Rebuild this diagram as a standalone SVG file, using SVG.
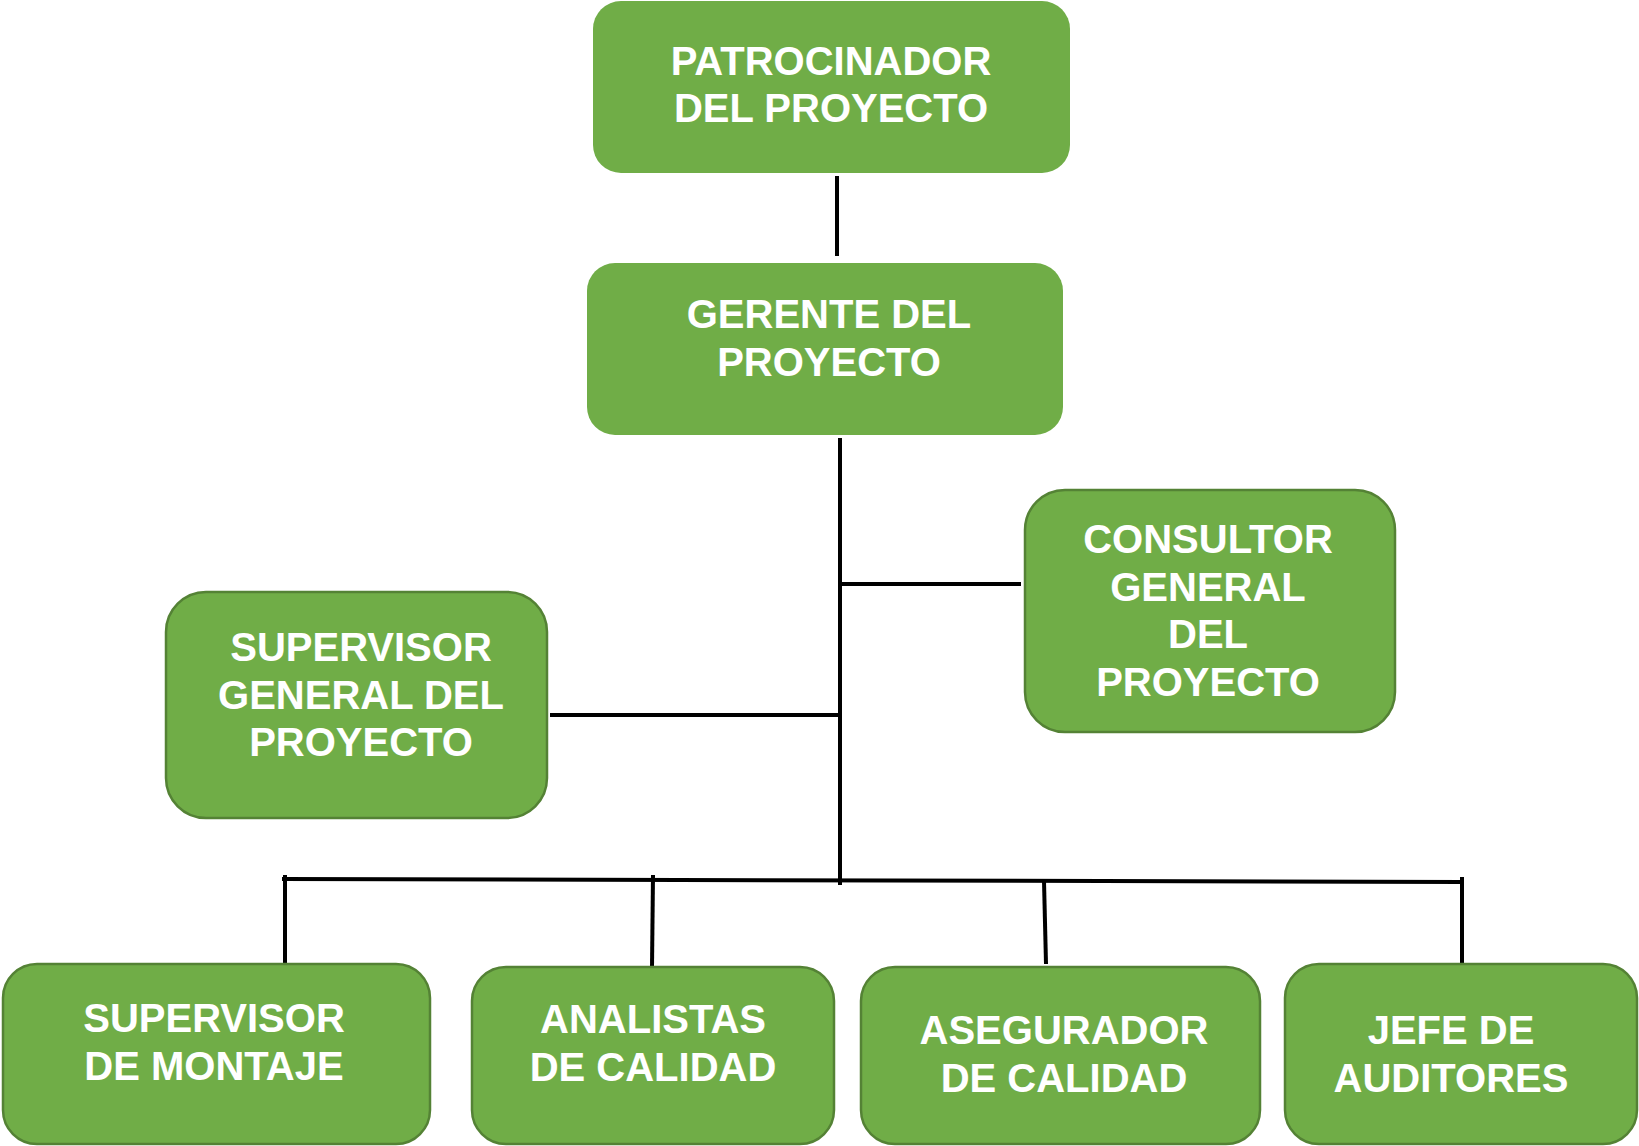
<svg xmlns="http://www.w3.org/2000/svg" width="1639" height="1146" viewBox="0 0 1639 1146">
<style>
.box{fill:#70AD47;}
.bd{stroke:#548235;stroke-width:2.5;}
.t{font-family:"Liberation Sans",Arial,sans-serif;font-weight:bold;font-size:40px;fill:#ffffff;text-anchor:middle;}
.c{stroke:#000000;stroke-width:4;fill:none;}
</style>
<rect width="1639" height="1146" fill="#ffffff"/>
<g id="connectors">
<line class="c" x1="837" y1="176" x2="837" y2="256"/>
<line class="c" x1="840" y1="438" x2="840" y2="885"/>
<line class="c" x1="840" y1="584" x2="1021" y2="584"/>
<line class="c" x1="550" y1="715" x2="840" y2="715"/>
<line class="c" x1="282" y1="879" x2="1462" y2="882"/>
<line class="c" x1="285" y1="875" x2="285" y2="964"/>
<line class="c" x1="653" y1="875" x2="652" y2="967"/>
<line class="c" x1="1044" y1="881" x2="1046" y2="964"/>
<line class="c" x1="1462" y1="877" x2="1462" y2="963"/>
</g>
<g id="patrocinador">
<rect class="box" x="593" y="1" width="477" height="172" rx="28"/>
<text class="t" x="831" y="75">PATROCINADOR</text>
<text class="t" x="831" y="122">DEL PROYECTO</text>
</g>
<g id="gerente">
<rect class="box" x="587" y="263" width="476" height="172" rx="28"/>
<text class="t" x="829" y="328">GERENTE DEL</text>
<text class="t" x="829" y="376">PROYECTO</text>
</g>
<g id="consultor">
<rect class="box bd" x="1025" y="490" width="370" height="242" rx="40"/>
<text class="t" x="1208" y="553">CONSULTOR</text>
<text class="t" x="1208" y="601">GENERAL</text>
<text class="t" x="1208" y="648">DEL</text>
<text class="t" x="1208" y="696">PROYECTO</text>
</g>
<g id="supervisor-general">
<rect class="box bd" x="166" y="592" width="381" height="226" rx="40"/>
<text class="t" x="361" y="661">SUPERVISOR</text>
<text class="t" x="361" y="709">GENERAL DEL</text>
<text class="t" x="361" y="756">PROYECTO</text>
</g>
<g id="supervisor-montaje">
<rect class="box bd" x="3" y="964" width="427" height="180" rx="34"/>
<text class="t" x="214" y="1032">SUPERVISOR</text>
<text class="t" x="214" y="1080">DE MONTAJE</text>
</g>
<g id="analistas">
<rect class="box bd" x="472" y="967" width="362" height="177" rx="34"/>
<text class="t" x="653" y="1033">ANALISTAS</text>
<text class="t" x="653" y="1081">DE CALIDAD</text>
</g>
<g id="asegurador">
<rect class="box bd" x="861" y="967" width="399" height="177" rx="34"/>
<text class="t" x="1064" y="1044">ASEGURADOR</text>
<text class="t" x="1064" y="1092">DE CALIDAD</text>
</g>
<g id="jefe">
<rect class="box bd" x="1285" y="964" width="352" height="180" rx="34"/>
<text class="t" x="1451" y="1044">JEFE DE</text>
<text class="t" x="1451" y="1092">AUDITORES</text>
</g>
</svg>
